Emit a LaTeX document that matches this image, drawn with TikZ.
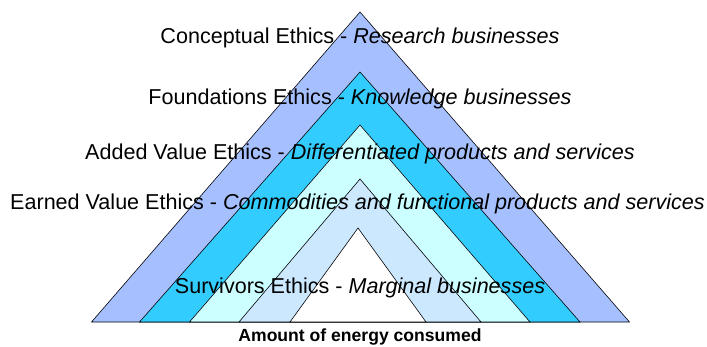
\documentclass[tikz,border=0pt]{standalone}
\usepackage{fontspec}
\setmainfont{Liberation Sans}

\definecolor{bandA}{RGB}{166,192,255}
\definecolor{bandB}{RGB}{51,204,255}
\definecolor{bandC}{RGB}{204,255,255}
\definecolor{bandD}{RGB}{204,232,255}

\begin{document}
\begin{tikzpicture}[x=0.03cm, y=-0.03cm,
    band/.style={draw=black, line width=0.5pt, line join=miter},
    level/.style={font=\fontsize{18.4}{21}\selectfont, inner sep=0pt},
    axislabel/.style={font=\fontsize{15}{17}\selectfont\bfseries, inner sep=0pt}]

    \useasboundingbox (0,0) rectangle (707,347);

    % Nested triangles, outermost first, all on the same base line
    \draw[band, fill=bandA] (91.5,322) -- (360,12)  -- (629.5,322) -- cycle;
    \draw[band, fill=bandB] (139.5,322) -- (360,72) -- (580,322) -- cycle;
    \draw[band, fill=bandC] (189.5,322) -- (360,125) -- (530,322) -- cycle;
    \draw[band, fill=bandD] (239,322) -- (360,179) -- (481,322) -- cycle;
    \draw[band, fill=white] (290,322) -- (358,228) -- (426,322) -- cycle;

    % Level labels
    \node[level] (conceptual) at (360,38)  {Conceptual Ethics - \textit{Research businesses}};
    \node[level] (foundations) at (360,99) {Foundations Ethics - \textit{Knowledge businesses}};
    \node[level] (added) at (360,154)      {Added Value Ethics - \textit{Differentiated products and services}};
    \node[level] (earned) at (357.5,204)   {Earned Value Ethics - \textit{Commodities and functional products and services}};
    \node[level] (survivors) at (360,288)  {Survivors Ethics - \textit{Marginal businesses}};

    % Axis caption under the base
    \node[axislabel] (energy) at (360,337) {Amount of energy consumed};

\end{tikzpicture}
\end{document}
